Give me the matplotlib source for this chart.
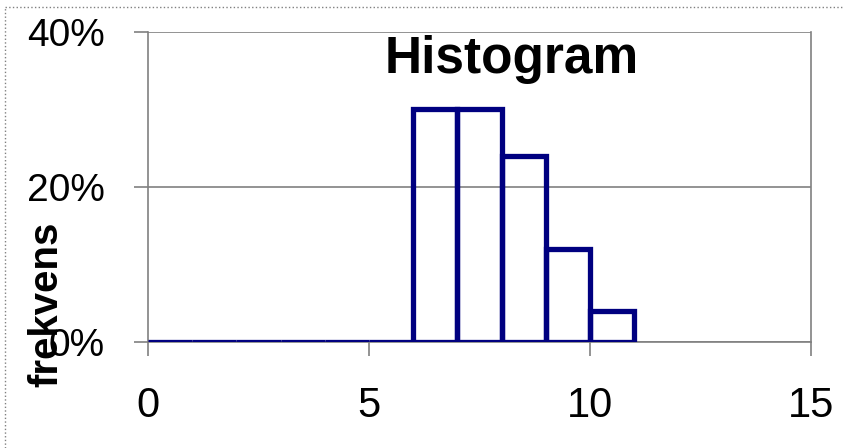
import numpy as np
import matplotlib.pyplot as plt
from matplotlib.ticker import PercentFormatter
from matplotlib.lines import Line2D

# bin left edges and relative frequency
bin_left = [0, 1, 2, 3, 4, 5, 6, 7, 8, 9, 10]
freq = [0, 0, 0, 0, 0, 0, 0.30, 0.30, 0.24, 0.12, 0.04]

xticks = [0, 5, 10, 15]
yticks = [0, 0.2, 0.4]

plt.rcParams['font.family'] = ['Liberation Sans', 'DejaVu Sans']

fig = plt.figure(figsize=(8.44, 4.48), dpi=100)
ax = fig.add_axes([148/844, 106/448, 663/844, 310/448])

ax.bar(bin_left, freq, width=1, align='edge', fill=False,
       edgecolor='#000080', linewidth=3.8, zorder=3)

ax.set_xlim(0, 15)
ax.set_ylim(0, 0.4)
ax.set_xticks(xticks)
ax.set_yticks(yticks)
ax.yaxis.set_major_formatter(PercentFormatter(1.0, decimals=0))
ax.grid(axis='y', color='#808080', linewidth=1.2)

for s in ax.spines.values():
    s.set_color('#808080')
    s.set_linewidth(1.2)
ax.spines['top'].set_visible(False)

ax.tick_params(axis='x', labelsize=30, length=10, width=1.2, color='#808080', pad=22)
ax.tick_params(axis='y', labelsize=28, length=10, width=1.2, color='#808080', pad=21)

ax.set_title('Histogram', fontsize=37, fontweight='bold', y=0.867, x=0.549, pad=0)
ax.set_ylabel('frekvens', fontsize=29, fontweight='bold', labelpad=0)
ax.yaxis.set_label_coords(-0.125, 0.12)

# dotted outer frame
fig.add_artist(Line2D([5/844, 5/844], [0, 1 - 7/448], transform=fig.transFigure,
                      color='#808080', linestyle=':', linewidth=1))
fig.add_artist(Line2D([5/844, 1], [1 - 7/448, 1 - 7/448], transform=fig.transFigure,
                      color='#808080', linestyle=':', linewidth=1))

fig.savefig('out.png', dpi=100)
